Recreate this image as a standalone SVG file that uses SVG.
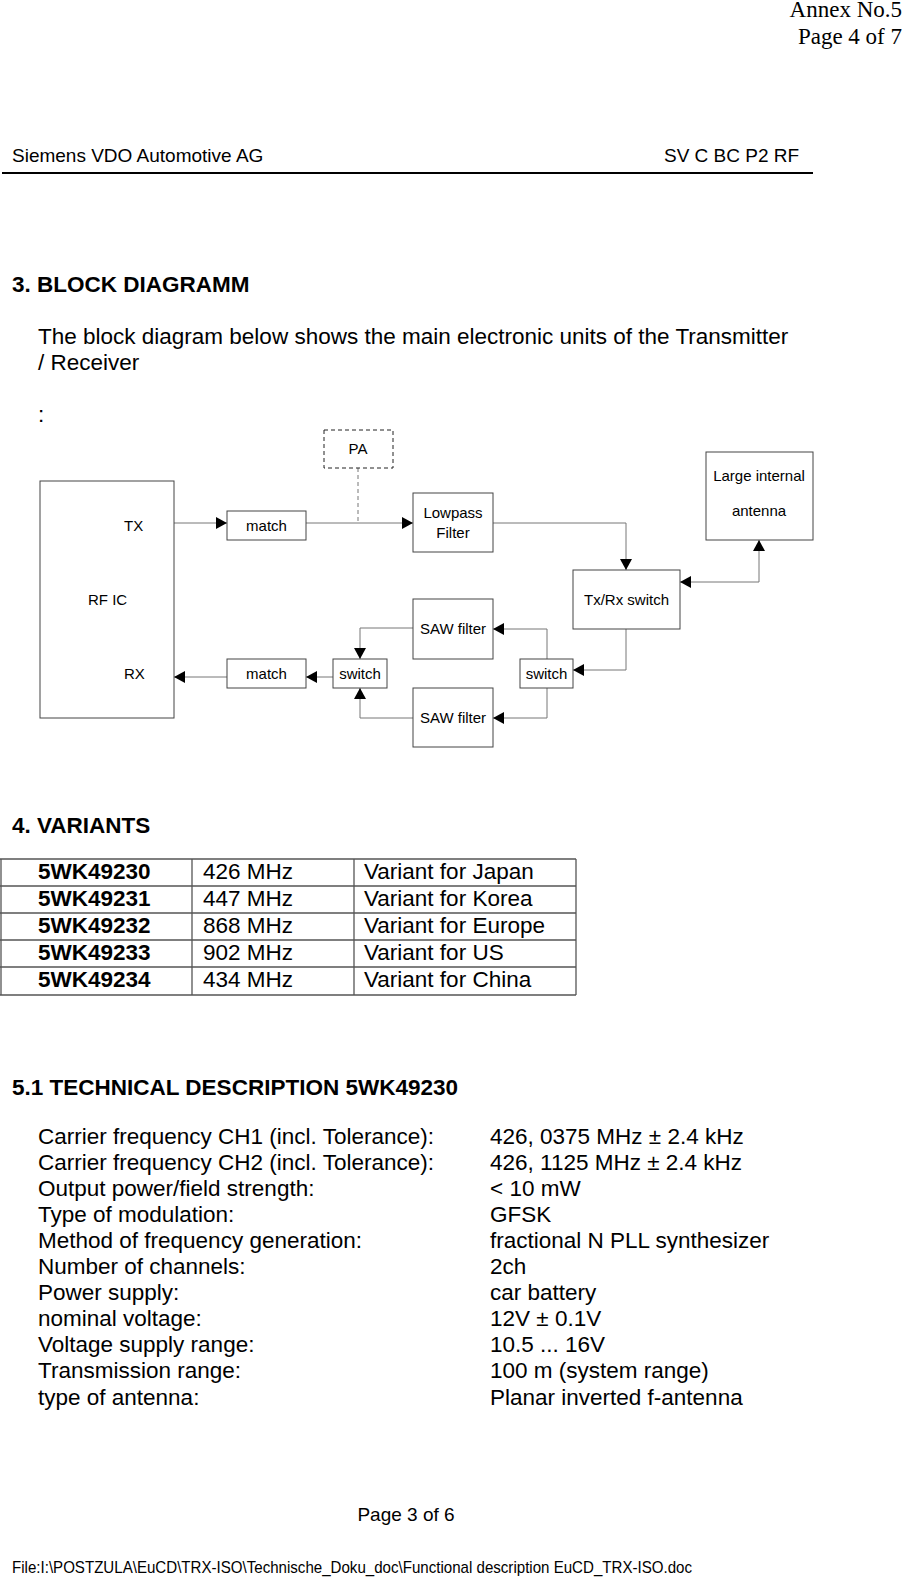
<svg xmlns="http://www.w3.org/2000/svg" width="903" height="1579" viewBox="0 0 903 1579">
<style>
.t{font-family:"Liberation Sans",Arial,sans-serif;font-size:22.5px;fill:#000}
.b{font-weight:bold}
.h{font-family:"Liberation Sans",Arial,sans-serif;font-size:19px;fill:#000}
.s{font-family:"Liberation Serif","Times New Roman",serif;font-size:23px;fill:#000}
.d{font-family:"Liberation Sans",Arial,sans-serif;font-size:15px;fill:#000}
.c{text-anchor:middle}
.box{fill:#fff;stroke:#444;stroke-width:1}
.con{fill:none;stroke:#777;stroke-width:1}
.tl{stroke:#555;stroke-width:1.3}
</style>
<defs>
<marker id="ah" markerUnits="userSpaceOnUse" markerWidth="11" markerHeight="12" refX="11" refY="6" orient="auto-start-reverse" viewBox="0 0 11 12">
<path d="M0,0 L11,6 L0,12 z" fill="#000"/>
</marker>
</defs>
<rect width="903" height="1579" fill="#fff"/>
<text class="s" x="902" y="17" text-anchor="end">Annex No.5</text>
<text class="s" x="902" y="44" text-anchor="end">Page 4 of 7</text>
<text class="h" x="12" y="162">Siemens VDO Automotive AG</text>
<text class="h" x="664" y="162">SV C BC P2 RF</text>
<line x1="2" y1="173" x2="813" y2="173" stroke="#000" stroke-width="2"/>
<text class="t b" x="12" y="292">3. BLOCK DIAGRAMM</text>
<text class="t" x="38" y="344">The block diagram below shows the main electronic units of the Transmitter</text>
<text class="t" x="38" y="370">/ Receiver</text>
<text class="t" x="38" y="422">:</text>
<g id="connectors">
<path class="con" d="M174,523 H227" marker-end="url(#ah)"/>
<path class="con" d="M306,523 H413" marker-end="url(#ah)"/>
<path class="con" d="M358,468 V523" stroke-dasharray="4,3"/>
<path class="con" d="M493,523 H626 V570" marker-end="url(#ah)"/>
<path class="con" d="M680,582 H759 V540" marker-start="url(#ah)" marker-end="url(#ah)"/>
<path class="con" d="M626,629 V670 H573" marker-end="url(#ah)"/>
<path class="con" d="M547,659 V629 H493" marker-end="url(#ah)"/>
<path class="con" d="M547,688 V718 H493" marker-end="url(#ah)"/>
<path class="con" d="M413,628 H360 V659" marker-end="url(#ah)"/>
<path class="con" d="M413,718 H360 V688" marker-end="url(#ah)"/>
<path class="con" d="M333,677 H306" marker-end="url(#ah)"/>
<path class="con" d="M227,677 H174" marker-end="url(#ah)"/>
</g>
<g id="rfic"><rect class="box" x="40" y="481" width="134" height="237"/>
<text class="d" x="124" y="530.5">TX</text><text class="d" x="88" y="604.5">RF IC</text><text class="d" x="124" y="678.5">RX</text></g>
<g id="match_tx"><rect class="box" x="227" y="511" width="79" height="29"/><text class="d c" x="266.5" y="530.5">match</text></g>
<g id="pa"><rect x="324" y="430" width="69" height="38" fill="#fff" stroke="#222" stroke-dasharray="4,3"/><text class="d c" x="358" y="454">PA</text></g>
<g id="lowpass"><rect class="box" x="413" y="493" width="80" height="59"/><text class="d c" x="453" y="518">Lowpass</text><text class="d c" x="453" y="538">Filter</text></g>
<g id="antenna"><rect class="box" x="706" y="452" width="107" height="88"/><text class="d c" x="759" y="481">Large internal</text><text class="d c" x="759" y="515.5">antenna</text></g>
<g id="txrx"><rect class="box" x="573" y="570" width="107" height="59"/><text class="d c" x="626.5" y="604.5">Tx/Rx switch</text></g>
<g id="saw1"><rect class="box" x="413" y="599" width="80" height="60"/><text class="d c" x="453" y="633.5">SAW filter</text></g>
<g id="saw2"><rect class="box" x="413" y="688" width="80" height="59"/><text class="d c" x="453" y="722.5">SAW filter</text></g>
<g id="switch_r"><rect class="box" x="520" y="659" width="53" height="29"/><text class="d c" x="546.5" y="678.5">switch</text></g>
<g id="switch_l"><rect class="box" x="333" y="659" width="54" height="29"/><text class="d c" x="360" y="678.5">switch</text></g>
<g id="match_rx"><rect class="box" x="227" y="659" width="79" height="29"/><text class="d c" x="266.5" y="678.5">match</text></g>
<text class="t b" x="12" y="832.5">4. VARIANTS</text>
<g id="table">
<line class="tl" x1="0" y1="859" x2="576" y2="859"/>
<line class="tl" x1="0" y1="886" x2="576" y2="886"/>
<line class="tl" x1="0" y1="913" x2="576" y2="913"/>
<line class="tl" x1="0" y1="940" x2="576" y2="940"/>
<line class="tl" x1="0" y1="967" x2="576" y2="967"/>
<line class="tl" x1="0" y1="995" x2="576" y2="995"/>
<line class="tl" x1="1" y1="859" x2="1" y2="995"/>
<line class="tl" x1="192" y1="859" x2="192" y2="995"/>
<line class="tl" x1="354" y1="859" x2="354" y2="995"/>
<line class="tl" x1="576" y1="859" x2="576" y2="995"/>
<text class="t b" x="38" y="879">5WK49230</text><text class="t" x="203" y="879">426 MHz</text><text class="t" x="364" y="879">Variant for Japan</text>
<text class="t b" x="38" y="906">5WK49231</text><text class="t" x="203" y="906">447 MHz</text><text class="t" x="364" y="906">Variant for Korea</text>
<text class="t b" x="38" y="933">5WK49232</text><text class="t" x="203" y="933">868 MHz</text><text class="t" x="364" y="933">Variant for Europe</text>
<text class="t b" x="38" y="960">5WK49233</text><text class="t" x="203" y="960">902 MHz</text><text class="t" x="364" y="960">Variant for US</text>
<text class="t b" x="38" y="987">5WK49234</text><text class="t" x="203" y="987">434 MHz</text><text class="t" x="364" y="987">Variant for China</text>
</g>
<text class="t b" x="12" y="1095">5.1 TECHNICAL DESCRIPTION 5WK49230</text>
<g id="tech">
<text class="t" x="38" y="1143.5">Carrier frequency CH1 (incl. Tolerance):</text><text class="t" x="490" y="1143.5">426, 0375 MHz ± 2.4 kHz</text>
<text class="t" x="38" y="1169.6">Carrier frequency CH2 (incl. Tolerance):</text><text class="t" x="490" y="1169.6">426, 1125 MHz ± 2.4 kHz</text>
<text class="t" x="38" y="1195.7">Output power/field strength:</text><text class="t" x="490" y="1195.7">&lt; 10 mW</text>
<text class="t" x="38" y="1221.8">Type of modulation:</text><text class="t" x="490" y="1221.8">GFSK</text>
<text class="t" x="38" y="1247.9">Method of frequency generation:</text><text class="t" x="490" y="1247.9">fractional N PLL synthesizer</text>
<text class="t" x="38" y="1274">Number of channels:</text><text class="t" x="490" y="1274">2ch</text>
<text class="t" x="38" y="1300.1">Power supply:</text><text class="t" x="490" y="1300.1">car battery</text>
<text class="t" x="38" y="1326.2">nominal voltage:</text><text class="t" x="490" y="1326.2">12V ± 0.1V</text>
<text class="t" x="38" y="1352.3">Voltage supply range:</text><text class="t" x="490" y="1352.3">10.5 ... 16V</text>
<text class="t" x="38" y="1378.4">Transmission range:</text><text class="t" x="490" y="1378.4">100 m (system range)</text>
<text class="t" x="38" y="1404.5">type of antenna:</text><text class="t" x="490" y="1404.5">Planar inverted f-antenna</text>
</g>
<text class="h c" x="406" y="1521">Page 3 of 6</text>
<text class="h" x="12" y="1573" textLength="680" lengthAdjust="spacingAndGlyphs" style="font-size:17px">File:I:\POSTZULA\EuCD\TRX-ISO\Technische_Doku_doc\Functional description EuCD_TRX-ISO.doc</text>
</svg>
